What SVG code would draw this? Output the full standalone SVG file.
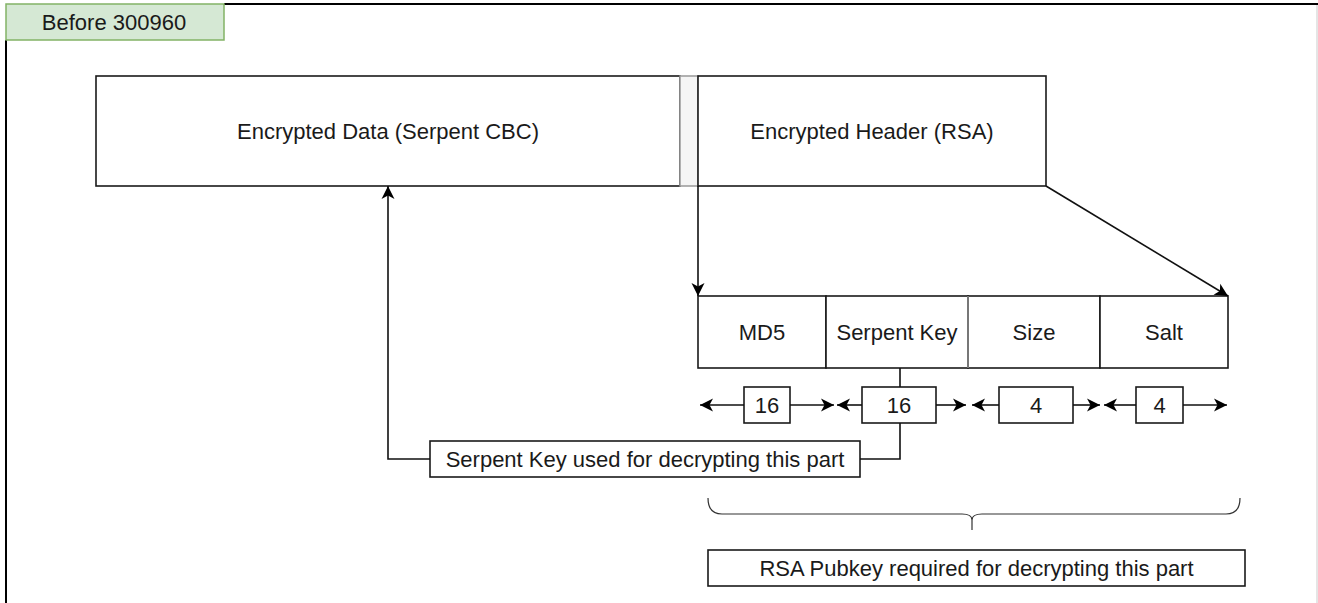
<svg xmlns="http://www.w3.org/2000/svg" width="1318" height="603" viewBox="0 0 1318 603">
  <style>
    .box { fill: #ffffff; stroke: #1a1a1a; stroke-width: 1.6; }
    .lbl { font-family: "Liberation Sans", Arial, sans-serif; font-size: 22px; fill: #1a1a1a; text-anchor: middle; dominant-baseline: central; }
    .edge { fill: none; stroke: #111111; stroke-width: 1.6; }
  </style>
  <defs>
    <marker id="arrow" viewBox="-14 -7 15 14" refX="0" refY="0" markerWidth="15" markerHeight="14" orient="auto" markerUnits="userSpaceOnUse">
      <path d="M0,0 L-13,-6.5 L-9.5,0 L-13,6.5 Z" fill="#000000"/>
    </marker>
  </defs>

  <rect x="0" y="0" width="1318" height="603" fill="#ffffff"/>

  <!-- frame -->
  <g id="frame">
    <path d="M224,4 H1318" stroke="#000000" stroke-width="2" fill="none"/>
    <path d="M6,40 V603" stroke="#000000" stroke-width="2" fill="none"/>
    <path d="M1317,5 V603" stroke="#dddddd" stroke-width="1.5" fill="none"/>
  </g>

  <!-- version tag -->
  <g id="tag">
    <rect x="6" y="4" width="218" height="36" fill="#d5e8d4" stroke="#82b366" stroke-width="1.5"/>
    <text class="lbl" x="114" y="22">Before 300960</text>
  </g>

  <!-- file layout -->
  <g id="data">
    <rect class="box" x="96" y="76" width="584" height="110"/>
    <text class="lbl" x="388" y="131">Encrypted Data (Serpent CBC)</text>
  </g>
  <g id="gap">
    <rect x="680" y="76" width="18" height="110" fill="#f5f5f5" stroke="#999999" stroke-width="1.5"/>
  </g>
  <g id="header">
    <rect class="box" x="698" y="76" width="348" height="110"/>
    <text class="lbl" x="872" y="131">Encrypted Header (RSA)</text>
  </g>

  <!-- decrypted header fields -->
  <g id="md5">
    <rect class="box" x="698" y="296" width="128" height="72"/>
    <text class="lbl" x="762" y="332">MD5</text>
  </g>
  <g id="serpent-key">
    <rect class="box" x="826" y="296" width="142" height="72"/>
    <text class="lbl" x="897" y="332">Serpent Key</text>
  </g>
  <g id="size">
    <rect class="box" x="968" y="296" width="132" height="72"/>
    <text class="lbl" x="1034" y="332">Size</text>
  </g>
  <g id="salt">
    <rect class="box" x="1100" y="296" width="128" height="72"/>
    <text class="lbl" x="1164" y="332">Salt</text>
  </g>
  <path d="M968,296 V368" stroke="#777777" stroke-width="2" fill="none"/>

  <!-- field sizes -->
  <g id="len-md5">
    <rect class="box" x="744" y="387" width="46" height="36"/>
    <text class="lbl" x="767" y="405">16</text>
  </g>
  <g id="len-key">
    <rect class="box" x="862" y="387" width="74" height="36"/>
    <text class="lbl" x="899" y="405">16</text>
  </g>
  <g id="len-size">
    <rect class="box" x="999" y="387" width="74" height="36"/>
    <text class="lbl" x="1036" y="405">4</text>
  </g>
  <g id="len-salt">
    <rect class="box" x="1136" y="387" width="47" height="36"/>
    <text class="lbl" x="1159.5" y="405">4</text>
  </g>

  <!-- notes -->
  <g id="note-serpent">
    <rect class="box" x="430" y="441" width="430" height="36"/>
    <text class="lbl" x="645" y="459">Serpent Key used for decrypting this part</text>
  </g>
  <g id="note-rsa">
    <rect class="box" x="708" y="550" width="537" height="36"/>
    <text class="lbl" x="976.5" y="568">RSA Pubkey required for decrypting this part</text>
  </g>

  <!-- connectors -->
  <g id="connectors">
    <path class="edge" d="M698,186 V296" marker-end="url(#arrow)"/>
    <path class="edge" d="M1046,186 L1228,296" marker-end="url(#arrow)"/>
    <path class="edge" d="M900,368 V387"/>
    <path class="edge" d="M900,423 V459 H860"/>
    <path class="edge" d="M430,459 H388 V186" marker-end="url(#arrow)"/>

    <path class="edge" d="M744,405 H700" marker-end="url(#arrow)"/>
    <path class="edge" d="M790,405 H834" marker-end="url(#arrow)"/>
    <path class="edge" d="M862,405 H837" marker-end="url(#arrow)"/>
    <path class="edge" d="M936,405 H966" marker-end="url(#arrow)"/>
    <path class="edge" d="M999,405 H972" marker-end="url(#arrow)"/>
    <path class="edge" d="M1073,405 H1100" marker-end="url(#arrow)"/>
    <path class="edge" d="M1136,405 H1104" marker-end="url(#arrow)"/>
    <path class="edge" d="M1183,405 H1227" marker-end="url(#arrow)"/>

    <path d="M708,498 Q708,514 722,514 L962,514 Q972,514 972,520 L972,530 M972,520 Q972,514 982,514 L1226,514 Q1240,514 1240,498" fill="none" stroke="#333333" stroke-width="1.2"/>
  </g>
</svg>
